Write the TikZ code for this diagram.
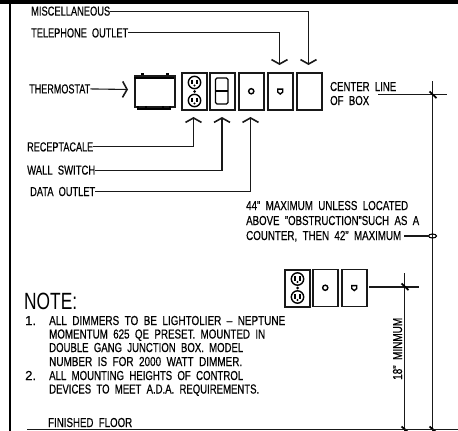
\documentclass[tikz,border=0pt]{standalone}
\usepackage{fontspec}
\usepackage{graphicx}
\setmainfont[FakeBold=0.5]{Liberation Sans}
\newfontfamily\notefont{Liberation Sans}
\usetikzlibrary{arrows.meta,shapes.geometric}
\newcommand{\fitw}[2]{\resizebox{#1pt}{\height}{#2}}
\newcommand{\wsp}{\hspace{0.55em}}
\tikzset{
  lbl/.style={anchor=base west,inner sep=0pt,font=\fontsize{13}{14}\selectfont},
  wire/.style={line width=1.1pt,draw=black!90},
  chev/.style={wire,-{Straight Barb[length=4.5pt,width=16pt,line width=1.6pt]}},
  plate/.style={draw=black!90,line width=1.5pt,minimum width=25pt,minimum height=37pt,inner sep=0pt,anchor=north west},
  heavyplate/.style={plate,line width=2pt},
  tick/.style={line width=1.8pt},
  outlet/.pic={
    \foreach \cy in {-9,9}{
      \draw[line width=1.4pt] (0,\cy) circle (6.2);
      \draw[line width=1.3pt] (-2.6,\cy-3) -- (-2.6,\cy+1.5);
      \draw[line width=1.3pt] (2.6,\cy-3) -- (2.6,\cy+1.5);
      \fill (0,\cy+3) circle (1.1);
    }
    \fill (0,0) circle (1.5);
  },
  dataface/.pic={\draw[line width=1.4pt] (0,0) circle (2.6);},
  phoneface/.pic={\draw[line width=1.4pt,fill=white] (-2.5,-2.2) -- (2.5,-2.2) -- (2.5,0.8) -- (0,2.8) -- (-2.5,0.8) -- cycle;}
}
\begin{document}
\begin{tikzpicture}[x=1pt,y=-1pt]
\useasboundingbox (0,0) rectangle (458,431);
\fill[white] (0,0) rectangle (458,431);
\fill[black] (0,0) rectangle (458,3.6);
\fill[black] (9,0) rectangle (11,431);

% upper row of plates
\node[heavyplate] (rec) at (181,72) {};
\node[plate] (sw) at (209,72) {};
\node[plate] (dat) at (238,72) {};
\node[plate] (tel) at (267,72) {};
\node[plate] (mis) at (296,72) {};
\pic at (rec.center) {outlet};
\draw[line width=1.4pt,rounded corners=1.5pt] (215.5,78) rectangle (228,104);
\draw[line width=1.4pt] (215.5,91) -- (228,91);
\pic at (dat.center) {dataface};
\pic at (tel.center) {phoneface};

% thermostat
\node[draw=black!90,line width=1.5pt,minimum width=40pt,minimum height=31pt,inner sep=0pt,anchor=north west] (thm) at (134,75) {};
\draw[line width=1.2pt] (134,78) -- (174,78);
\draw[line width=1.2pt] (138,106) -- (138,109) -- (170,109) -- (170,106);
\fill (141,72.5) rectangle (143.5,75);
\fill (166,72.5) rectangle (168.5,75);
\fill (144.5,106) rectangle (147,109);
\fill (161.5,106) rectangle (164,109);

% labels with leaders
\node[lbl] (lmis) at (31,15.6) {\fitw{79}{MISCELLANEOUS}};
\node[lbl] (ltel) at (31,37.4) {\fitw{97}{TELEPHONE\wsp OUTLET}};
\node[lbl] (lthm) at (29,93.4) {\fitw{61}{THERMOSTAT}};
\node[lbl] (lrec) at (27,151.4) {\fitw{66}{RECEPTACALE}};
\node[lbl] (lsw) at (27,174.6) {\fitw{68}{WALL\wsp SWITCH}};
\node[lbl] (ldat) at (30,196) {\fitw{65}{DATA\wsp OUTLET}};

\coordinate (tmis) at (308.5,65);
\coordinate (ttel) at (279.5,65);
\coordinate (tthm) at (128,89.5);
\coordinate (trec) at (193.5,117);
\coordinate (tsw) at (222,117);
\coordinate (tdat) at (250.5,117);
\draw[chev] (lmis.east) -| (tmis);
\draw[chev] (ltel.east) -| (ttel);
\draw[chev] (lthm.east) -- (tthm);
\draw[chev] (lrec.east) -| (trec);
\draw[chev] (lsw.east) -| (tsw);
\draw[chev] (ldat.east) -| (tdat);

% centre line
\node[lbl] (lc1) at (330,91) {\fitw{66}{CENTER\wsp LINE}};
\node[lbl] (lc2) at (330,105) {\fitw{39}{OF\wsp BOX}};
\coordinate (cl1) at (378,94.5);
\coordinate (cl2) at (447,94.5);
\draw[wire] (cl1) -- (cl2);

% 44 inch dimension
\coordinate (d44t) at (432.5,81);
\coordinate (d44b) at (432.5,431);
\draw[wire] (d44t) -- (d44b);
\draw[tick] (429.5,91.5) -- (436.5,98);
\draw[tick] (429.5,426.5) -- (436,432);
\node[lbl] at (246,210) {\fitw{162}{44"\wsp MAXIMUM\wsp UNLESS\wsp LOCATED}};
\node[lbl] at (246,225) {\fitw{173}{ABOVE\wsp "OBSTRUCTION"SUCH\wsp AS\wsp A}};
\node[lbl] at (246,240) {\fitw{155}{COUNTER,\wsp THEN\wsp 42"\wsp MAXIMUM}};
\node[draw,line width=1.1pt,ellipse,minimum width=8pt,minimum height=4pt,inner sep=0pt] (ell) at (432.5,236) {};
\coordinate (ellfree) at (404,236);
\draw[wire] (ellfree) -- (ell.west);

% lower row of plates
\node[heavyplate] (rec2) at (284,268.5) {};
\node[plate] (dat2) at (312,268.5) {};
\node[plate] (tel2) at (341,268.5) {};
\pic at (rec2.center) {outlet};
\pic at (dat2.center) {dataface};
\pic at (tel2.center) {phoneface};
\coordinate (cl3) at (369,287);
\coordinate (cl4) at (419,287);
\draw[wire] (cl3) -- (cl4);

% 18 inch dimension
\coordinate (d18t) at (404.7,273);
\coordinate (d18b) at (404.7,431);
\draw[wire] (d18t) -- (d18b);
\draw[tick] (401.5,283.5) -- (408.5,290);
\draw[tick] (401.5,426.5) -- (408,432);
\node[lbl,rotate=90] at (402,380) {\fitw{62}{18"\wsp MINMUM}};

% notes
\node[lbl,font=\notefont\fontsize{23.5}{24}\selectfont] at (24,309) {\fitw{53}{NOTE:}};
\node[lbl] at (25,325) {1.};
\node[lbl] at (25,380) {2.};
\node[lbl] at (49,325) {\fitw{236}{ALL\wsp DIMMERS\wsp TO\wsp BE\wsp LIGHTOLIER\wsp --\wsp NEPTUNE}};
\node[lbl] at (49,338.5) {\fitw{216}{MOMENTUM\wsp 625\wsp QE\wsp PRESET.\wsp MOUNTED\wsp IN}};
\node[lbl] at (49,352) {\fitw{194}{DOUBLE\wsp GANG\wsp JUNCTION\wsp BOX.\wsp MODEL}};
\node[lbl] at (49,366) {\fitw{193}{NUMBER\wsp IS\wsp FOR\wsp 2000\wsp WATT\wsp DIMMER.}};
\node[lbl] at (49,380) {\fitw{194}{ALL\wsp MOUNTING\wsp HEIGHTS\wsp OF\wsp CONTROL}};
\node[lbl] at (49,393.5) {\fitw{210}{DEVICES\wsp TO\wsp MEET\wsp A.D.A.\wsp REQUIREMENTS.}};

% floor
\node[lbl] at (48,427) {\fitw{84}{FINISHED\wsp FLOOR}};
\coordinate (fl1) at (27,429.5);
\coordinate (fl2) at (458,429.5);
\draw[wire] (fl1) -- (fl2);
\end{tikzpicture}
\end{document}
